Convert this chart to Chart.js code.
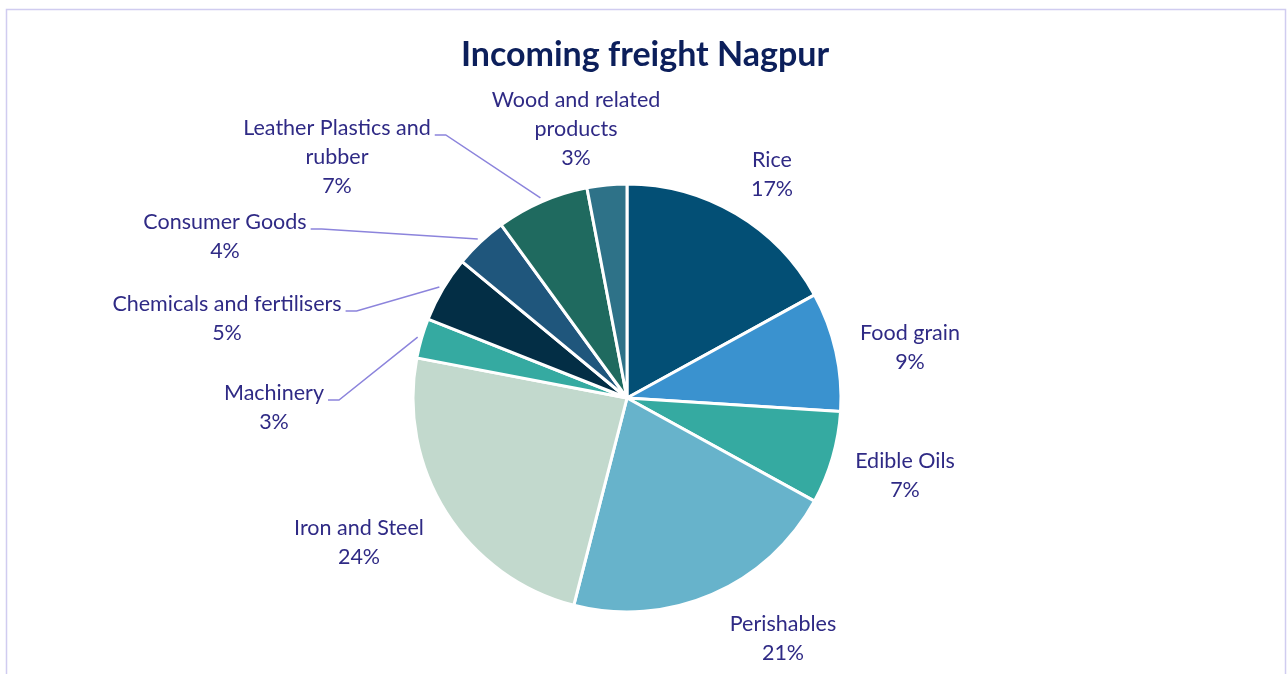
<!DOCTYPE html>
<html>
<head>
<meta charset="utf-8">
<script src="https://cdn.jsdelivr.net/npm/chart.js@4/dist/chart.umd.min.js"></script>
<style>
  html, body { margin: 0; padding: 0; background: #fff; }
  #wrap { width: 1287px; height: 674px; position: relative; }
</style>
</head>
<body>
<div id="wrap"><canvas id="chart"></canvas></div>
<script>
// Data (share of incoming freight, %)
let categories = ["Rice", "Food grain", "Edible Oils", "Perishables", "Iron and Steel",
  "Machinery", "Chemicals and fertilisers", "Consumer Goods", "Leather Plastics and\nrubber", "Wood and related\nproducts"];
let shares = [17, 9, 7, 21, 24, 3, 5, 4, 7, 3];
let sliceColors = ["#034f75", "#3a92cf", "#35aaa1", "#67b3cb", "#c2d9cd",
  "#35aaa1", "#032e45", "#1f567c", "#1f6a5f", "#2e7288"];

// Where each label sits, relative to the pie centre, and which ones get a leader line
let labelSpots = [[145, -238], [283, -65], [278, 63], [156, 226], [-268, 130],
  [-353, -5], [-400, -94], [-402, -176], [-290, -270], [-51, -298]];
let hasLeader = [false, false, false, false, false, true, true, true, true, false];

let labelFont = "21.5px Lato";
let labelColor = "#2f2a85";
let lineHeight = 29;

// Draws the frame, title and the outside labels
const labelPlugin = {
  id: "labels",
  afterDraw(chart) {
    const ctx = chart.ctx;
    const meta = chart.getDatasetMeta(0);
    ctx.save();

    // frame
    ctx.strokeStyle = "#d0ccf0";
    ctx.lineWidth = 1.5;
    ctx.strokeRect(6.5, 9.5, 1279, 700);

    // title
    ctx.fillStyle = "#0c1f5b";
    ctx.font = "bold 34px Lato";
    ctx.textAlign = "center";
    ctx.textBaseline = "middle";
    ctx.fillText("Incoming freight Nagpur", 645, 55);

    ctx.font = labelFont;
    meta.data.forEach((arc, i) => {
      const cx = arc.x, cy = arc.y;
      const lx = cx + labelSpots[i][0];
      const ly = cy + labelSpots[i][1];
      const lines = categories[i].split("\n").concat([shares[i] + "%"]);
      ctx.fillStyle = labelColor;
      lines.forEach((t, k) => ctx.fillText(t, lx, ly + k * lineHeight));

      if (hasLeader[i]) {
        const w = ctx.measureText(lines[0]).width;
        const sx = lx + w / 2 + 4;
        const sy = ly + 7;
        const mid = (arc.startAngle + arc.endAngle) / 2;
        const r = arc.outerRadius + 4;
        ctx.strokeStyle = "#8c84dc";
        ctx.lineWidth = 1.5;
        ctx.beginPath();
        ctx.moveTo(sx, sy);
        ctx.lineTo(sx + 11, sy);
        ctx.lineTo(cx + r * Math.cos(mid), cy + r * Math.sin(mid));
        ctx.stroke();
      }
    });
    ctx.restore();
  }
};

new Chart(document.getElementById("chart"), {
  type: "pie",
  data: {
    labels: categories,
    datasets: [{
      data: shares,
      backgroundColor: sliceColors,
      borderColor: "#ffffff",
      borderWidth: 3,
      radius: 214
    }]
  },
  options: {
    responsive: true,
    maintainAspectRatio: false,
    animation: false,
    layout: { padding: { left: 413, right: 446, top: 184, bottom: 62 } },
    plugins: {
      legend: { display: false },
      title: { display: false },
      tooltip: { enabled: false }
    }
  },
  plugins: [labelPlugin]
});
</script>
</body>
</html>
